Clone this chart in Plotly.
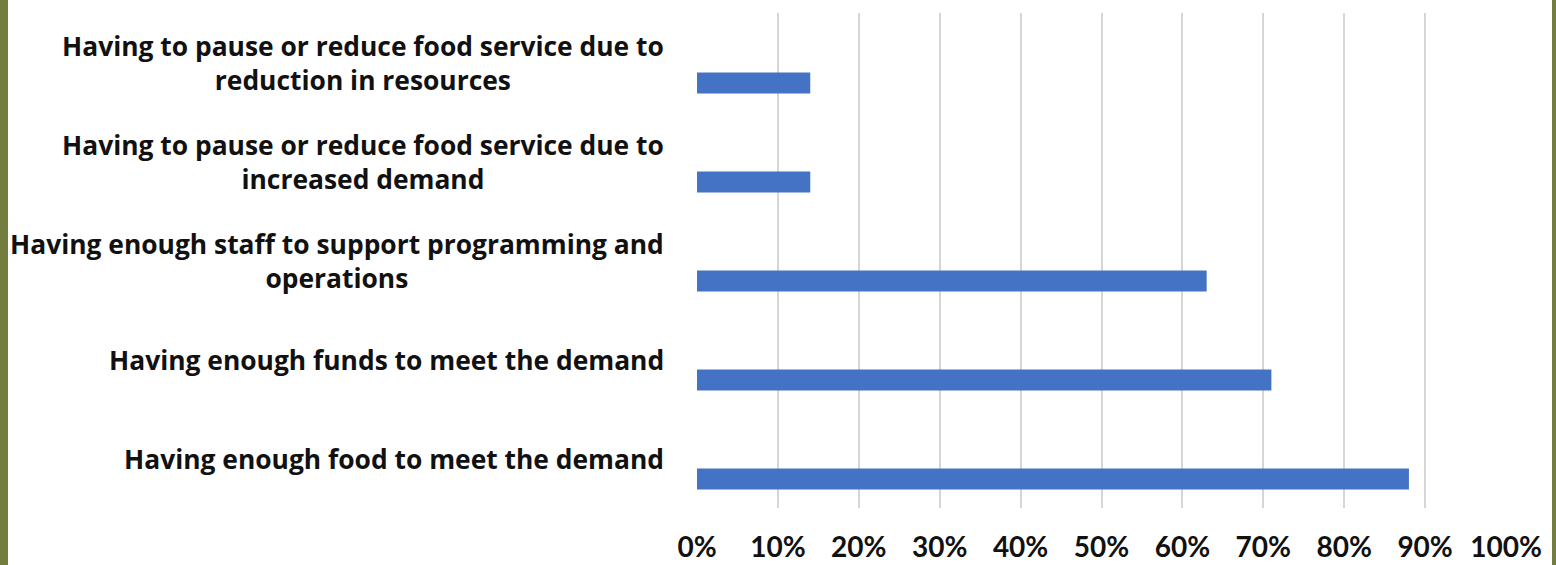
import plotly.graph_objects as go

# Survey challenges, listed bottom to top as drawn on the chart
categories = [
    "Having enough food to meet the demand",
    "Having enough funds to meet the demand",
    "Having enough staff to support programming and<br>operations",
    "Having to pause or reduce food service due to<br>increased demand",
    "Having to pause or reduce food service due to<br>reduction in resources",
]
shares = [0.88, 0.71, 0.63, 0.14, 0.14]
tick_values = [i / 10 for i in range(11)]
tick_labels = [f"{i * 10}%" for i in range(11)]

BAR_BLUE = "#4472C4"
OLIVE = "#737D40"
LABEL_FONT = dict(family="Open Sans", size=26.4, color="#111111", weight="bold")

fig = go.Figure()
fig.add_trace(go.Bar(
    y=list(range(len(categories))),
    x=shares,
    orientation="h",
    marker=dict(color=BAR_BLUE, line=dict(width=0)),
    width=0.212,
    offset=-0.313,
    hoverinfo="skip",
))

# Category labels, centred line by line to the left of the plot area
for i, label in enumerate(categories):
    fig.add_annotation(
        x=0, y=i, xref="paper", yref="y",
        text=label, showarrow=False,
        xanchor="right", yanchor="middle", align="center",
        xshift=-31,
        font=LABEL_FONT,
    )

# Olive frame strips at the left and right edges
W, L, PW = 1556, 697, 809
fig.add_shape(type="rect", xref="paper", yref="paper",
              x0=-L / PW, x1=(8 - L) / PW, y0=-1, y1=2,
              fillcolor=OLIVE, line=dict(width=0), layer="above")
fig.add_shape(type="rect", xref="paper", yref="paper",
              x0=(1552 - L) / PW, x1=(W - L) / PW, y0=-1, y1=2,
              fillcolor=OLIVE, line=dict(width=0), layer="above")

fig.update_xaxes(
    range=[0, 1],
    tickmode="array", tickvals=tick_values, ticktext=tick_labels,
    showgrid=True, gridcolor="#D6D6D6", gridwidth=1.5,
    zeroline=False, showline=False, ticks="",
    tickfont=dict(family="Lato", size=28, color="#111111", weight="bold"),
    ticklabelstandoff=20,
    automargin=False,
    fixedrange=True,
)
fig.update_yaxes(
    range=[-0.5, len(categories) - 0.5],
    showticklabels=False, showgrid=False, zeroline=False, showline=False,
    automargin=False,
    fixedrange=True,
)
fig.update_layout(
    width=1556, height=565,
    margin=dict(l=697, r=50, t=13, b=57, autoexpand=False),
    paper_bgcolor="white", plot_bgcolor="white",
    showlegend=False,
)

fig.write_html("out.html")
